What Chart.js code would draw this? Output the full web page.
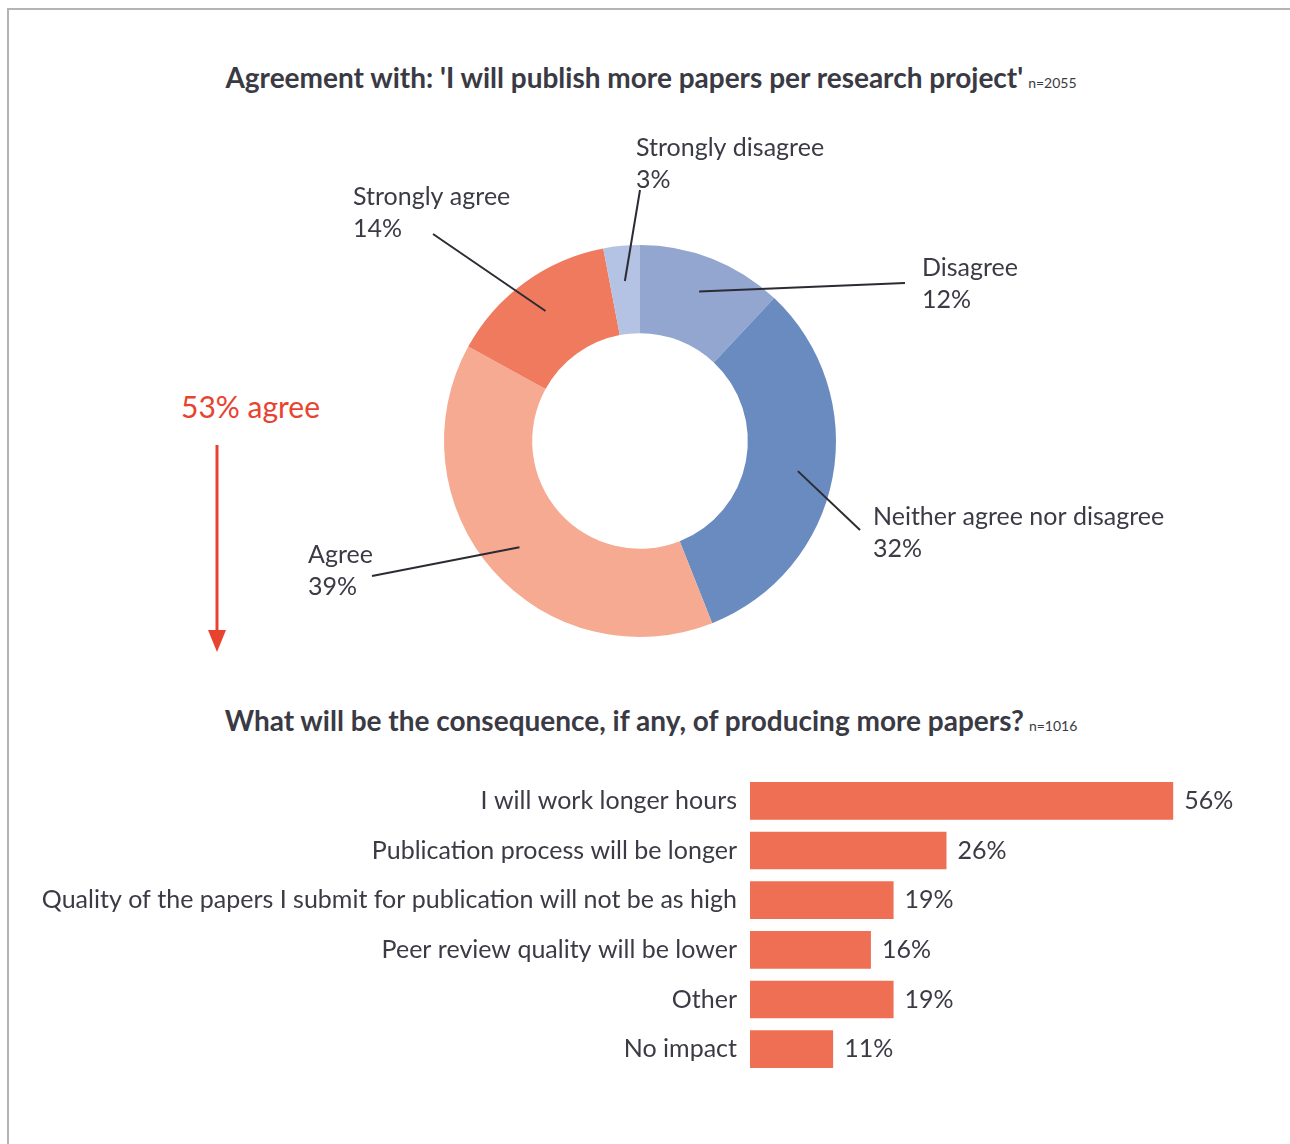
<!DOCTYPE html>
<html>
<head>
<meta charset="utf-8">
<script src="https://cdn.jsdelivr.net/npm/chart.js@4/dist/chart.umd.min.js"></script>
<style>
  html, body { margin: 0; padding: 0; background: #ffffff; }
  body { width: 1290px; height: 1144px; position: relative; overflow: hidden; font-family: Lato, "Open Sans", sans-serif; color: #3b3b45; }
  .frame { position: absolute; left: 7px; top: 8px; right: -2px; bottom: -2px; border-top: 2px solid #b4b4b4; border-left: 2px solid #b4b4b4; }
  .title { position: absolute; left: 0; width: 1302px; text-align: center; font-weight: 700; font-size: 28px; color: #3a3a44; white-space: nowrap; }
  .title small { font-size: 14px; font-weight: 400; margin-left: 5px; }
  #t1 { top: 60px; }
  #t2 { top: 703px; }
  .agree { position: absolute; left: 181px; top: 388px; font-size: 30px; color: #e8432f; white-space: nowrap; }
  #arrow { position: absolute; left: 200px; top: 440px; }
  #donutWrap { position: absolute; left: 0; top: 120px; width: 1290px; height: 560px; }
  #barWrap { position: absolute; left: 0; top: 748px; width: 1290px; height: 354px; }
</style>
</head>
<body>
<div class="frame"></div>
<div class="title" id="t1">Agreement with: 'I will publish more papers per research project'<small>n=2055</small></div>
<div class="agree">53% agree</div>
<svg id="arrow" width="40" height="220">
  <line x1="17" y1="5" x2="17" y2="195" stroke="#e8432f" stroke-width="3"/>
  <polygon points="8,190 26,190 17,212" fill="#e8432f"/>
</svg>
<div id="donutWrap"><canvas id="donut"></canvas></div>
<div class="title" id="t2">What will be the consequence, if any, of producing more papers?<small>n=1016</small></div>
<div id="barWrap"><canvas id="bars"></canvas></div>

<script>
// Agreement question (clockwise from 12 o'clock)
const agreeLabels = ['Disagree', 'Neither agree nor disagree', 'Agree', 'Strongly agree', 'Strongly disagree'];
const agreeValues = [12, 32, 39, 14, 3];
const agreeColors = ['#93a6d0', '#6a8bc0', '#f5aa91', '#ef7a5e', '#b4c2e3'];

// Consequences question
const consequenceLabels = [
  'I will work longer hours',
  'Publication process will be longer',
  'Quality of the papers I submit for publication will not be as high',
  'Peer review quality will be lower',
  'Other',
  'No impact'
];
const consequenceValues = [56, 26, 19, 16, 19, 11];

const TEXT = '#3b3b45';
const FONT = 'Lato, "Open Sans", sans-serif';

// Where each donut label sits (left edge, first line centre) and where its leader starts
const calloutPlacement = [
  { x: 922, y: 148, lx: 905, ly: 163 },   // Disagree
  { x: 873, y: 397, lx: 860, ly: 410 },   // Neither
  { x: 308, y: 435, lx: 372, ly: 456 },   // Agree
  { x: 353, y: 77,  lx: 433, ly: 114 },   // Strongly agree
  { x: 636, y: 28,  lx: 640, ly: 70 }     // Strongly disagree
];

const calloutPlugin = {
  id: 'callouts',
  afterDatasetsDraw(chart) {
    const ctx = chart.ctx;
    const meta = chart.getDatasetMeta(0);
    ctx.save();
    ctx.font = '25px ' + FONT;
    ctx.fillStyle = TEXT;
    ctx.textBaseline = 'middle';
    ctx.textAlign = 'left';
    meta.data.forEach((arc, i) => {
      const p = calloutPlacement[i];
      const mid = (arc.startAngle + arc.endAngle) / 2;
      const r = arc.innerRadius + (arc.outerRadius - arc.innerRadius) * 0.6;
      const ex = arc.x + Math.cos(mid) * r;
      const ey = arc.y + Math.sin(mid) * r;
      ctx.strokeStyle = '#2b2b33';
      ctx.lineWidth = 2;
      ctx.beginPath();
      ctx.moveTo(p.lx, p.ly);
      ctx.lineTo(ex, ey);
      ctx.stroke();
      ctx.fillText(agreeLabels[i], p.x, p.y);
      ctx.fillText(agreeValues[i] + '%', p.x, p.y + 32);
    });
    ctx.restore();
  }
};

new Chart(document.getElementById('donut'), {
  type: 'doughnut',
  data: {
    labels: agreeLabels,
    datasets: [{
      data: agreeValues,
      backgroundColor: agreeColors,
      borderWidth: 0,
      hoverOffset: 0
    }]
  },
  options: {
    responsive: true,
    maintainAspectRatio: false,
    animation: false,
    cutout: '55%',
    layout: { padding: { left: 444, right: 454, top: 125, bottom: 43 } },
    plugins: { legend: { display: false }, tooltip: { enabled: false } }
  },
  plugins: [calloutPlugin]
});

const valueLabelPlugin = {
  id: 'valueLabels',
  afterDatasetsDraw(chart) {
    const ctx = chart.ctx;
    const meta = chart.getDatasetMeta(0);
    ctx.save();
    ctx.font = '25px ' + FONT;
    ctx.fillStyle = TEXT;
    ctx.textBaseline = 'middle';
    ctx.textAlign = 'left';
    meta.data.forEach((bar, i) => {
      ctx.fillText(consequenceValues[i] + '%', bar.x + 11, bar.y);
    });
    ctx.restore();
  }
};

new Chart(document.getElementById('bars'), {
  type: 'bar',
  data: {
    labels: consequenceLabels,
    datasets: [{
      data: consequenceValues,
      backgroundColor: '#ee6f53',
      borderWidth: 0,
      barPercentage: 0.76,
      categoryPercentage: 1
    }]
  },
  options: {
    indexAxis: 'y',
    responsive: true,
    maintainAspectRatio: false,
    animation: false,
    layout: { padding: { left: 0, right: 11, top: 0, bottom: 0 } },
    scales: {
      x: { display: false, min: 0, max: 70 },
      y: {
        grid: { display: false, drawTicks: false },
        border: { display: false },
        ticks: { color: TEXT, font: { family: FONT, size: 25 }, padding: 13 },
        afterFit(scale) { scale.width = 750; }
      }
    },
    plugins: { legend: { display: false }, tooltip: { enabled: false } }
  },
  plugins: [valueLabelPlugin]
});
</script>
</body>
</html>
